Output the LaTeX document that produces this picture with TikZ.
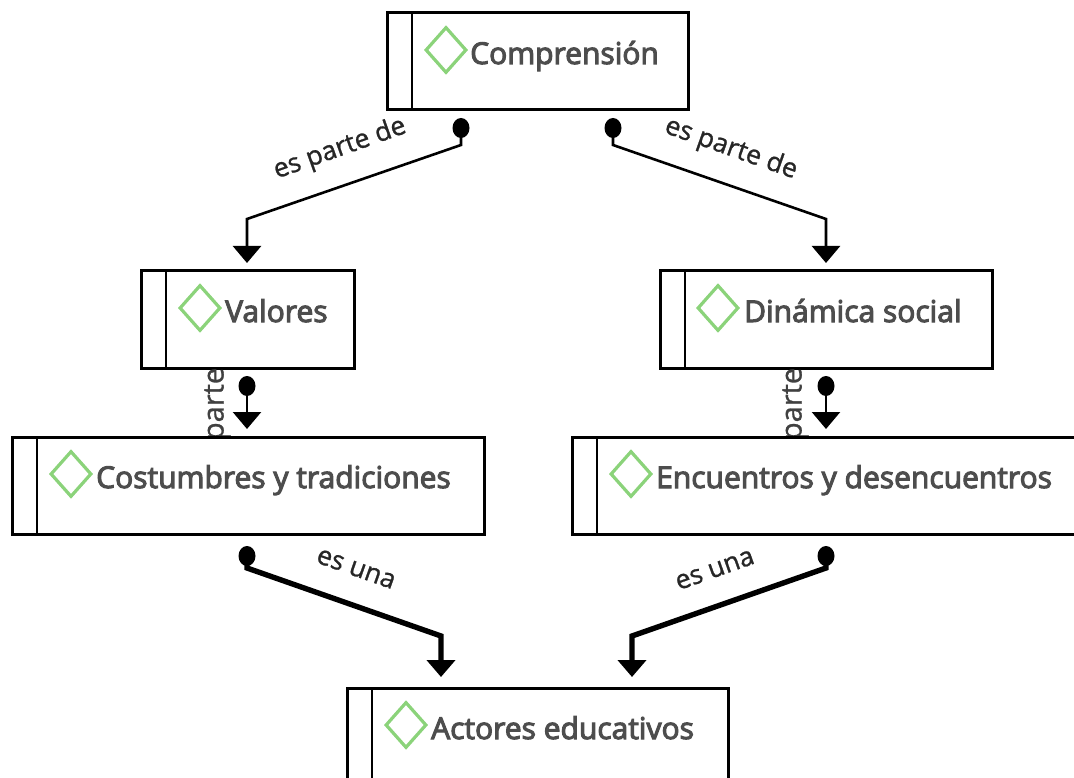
\documentclass[tikz,border=0pt]{standalone}
\usepackage{fontspec}
\setmainfont{Open Sans}
\newfontfamily\titlefont[FakeBold=3.5]{Open Sans}
\newfontfamily\labelfont[FakeBold=1]{Open Sans}
\usetikzlibrary{arrows.meta,shapes.geometric}
\definecolor{txt}{HTML}{4D4D4D}
\definecolor{grn}{HTML}{8BD37A}
\tikzset{
  x=1pt,y=-1pt,
  box/.style={draw=black,line width=3pt,fill=white,minimum height=97pt,inner sep=0pt,anchor=north west,xshift=-1.5pt,yshift=1.5pt},
  bar/.style={draw=black,line width=2.8pt},
  dia/.style={diamond,draw=grn,line width=3.2pt,fill=white,minimum width=41pt,minimum height=46pt,inner sep=0pt,aspect=0.9},
  title/.style={text=txt,font=\titlefont\fontsize{30}{32}\selectfont,anchor=base west,inner sep=0pt},
  dot/.style={ellipse,fill=black,draw=none,minimum width=17pt,minimum height=20pt,inner sep=0pt},
  lbl/.style={text=black!85,font=\labelfont\fontsize{26.5}{28}\selectfont,inner sep=0pt},
  vlbl/.style={text=black!75,font=\labelfont\fontsize{29}{30}\selectfont,inner sep=0pt,rotate=90},
  conn/.style={line width=2.6pt,-{Triangle[length=17pt,width=28pt]}},
  heavy/.style={line width=5.4pt,-{Triangle[length=17pt,width=28pt]}},
}
\begin{document}
\begin{tikzpicture}
\useasboundingbox (0,0) rectangle (1074,778);
\fill[white] (0,0) rectangle (1074,778);
% boxes
\node[box,minimum width=301pt] (comp) at (387,13) {};
\draw[bar] (412,13) -- (412,110);
\node[dia] (dcomp) at (446,50) {};
\node[title] (tcomp) at (470,64) {Comprensión};

\node[box,minimum width=213pt] (val) at (141,271) {};
\draw[bar] (166,271) -- (166,368);
\node[dia] (dval) at (200,308) {};
\node[title] (tval) at (225,322) {Valores};

\node[box,minimum width=332pt] (din) at (660,271) {};
\draw[bar] (685,271) -- (685,368);
\node[dia] (ddin) at (718,308) {};
\node[title] (tdin) at (744,322) {Dinámica social};

\node[box,minimum width=472pt] (cos) at (12,437) {};
\draw[bar] (37,437) -- (37,534);
\node[dia] (dcos) at (71,474) {};
\node[title] (tcos) at (96,488) {Costumbres y tradiciones};

\node[box,minimum width=510pt] (enc) at (572,437) {};
\draw[bar] (597,437) -- (597,534);
\node[dia] (denc) at (631,474) {};
\node[title] (tenc) at (656,488) {Encuentros y desencuentros};

\node[box,minimum width=381pt] (act) at (347,688) {};
\draw[bar] (372,688) -- (372,785);
\node[dia] (dact) at (406,725) {};
\node[title] (tact) at (431,739) {Actores educativos};

% vertical clipped labels
\begin{scope}
\clip (190,369.5) rectangle (240,435.5);
\node[vlbl] (lv) at (216,402) {es parte de};
\end{scope}
\begin{scope}
\clip (770,369.5) rectangle (815,435.5);
\node[vlbl] (ld) at (794,402) {es parte de};
\end{scope}

% connectors
\node[dot] (a1) at (461,128) {};
\node[dot] (a2) at (613,128) {};
\node[dot] (a3) at (247,386) {};
\node[dot] (a4) at (826,386) {};
\node[dot] (a5) at (247,556) {};
\node[dot] (a6) at (826,556) {};
\coordinate (e1) at (247,263);
\coordinate (e2) at (826,263);
\coordinate (e3) at (247,429);
\coordinate (e4) at (826,429);
\coordinate (e5) at (441,677);
\coordinate (e6) at (632,677);
\draw[conn] (a1.center) -- (461,145) -- (247,219) -- (e1);
\draw[conn] (a2.center) -- (613,145) -- (826,219) -- (e2);
\draw[conn] (a3.center) -- (e3);
\draw[conn] (a4.center) -- (e4);
\draw[heavy] (a5.center) -- (247,568) -- (441,636) -- (e5);
\draw[heavy] (a6.center) -- (826,568) -- (632,636) -- (e6);

\node[lbl,rotate=19.5] (l1) at (340,149) {es parte de};
\node[lbl,rotate=-19.5] (l2) at (731,149) {es parte de};
\node[lbl,rotate=-19.5] (l3) at (356,569) {es una};
\node[lbl,rotate=19.5] (l4) at (715,570) {es una};
\end{tikzpicture}
\end{document}
